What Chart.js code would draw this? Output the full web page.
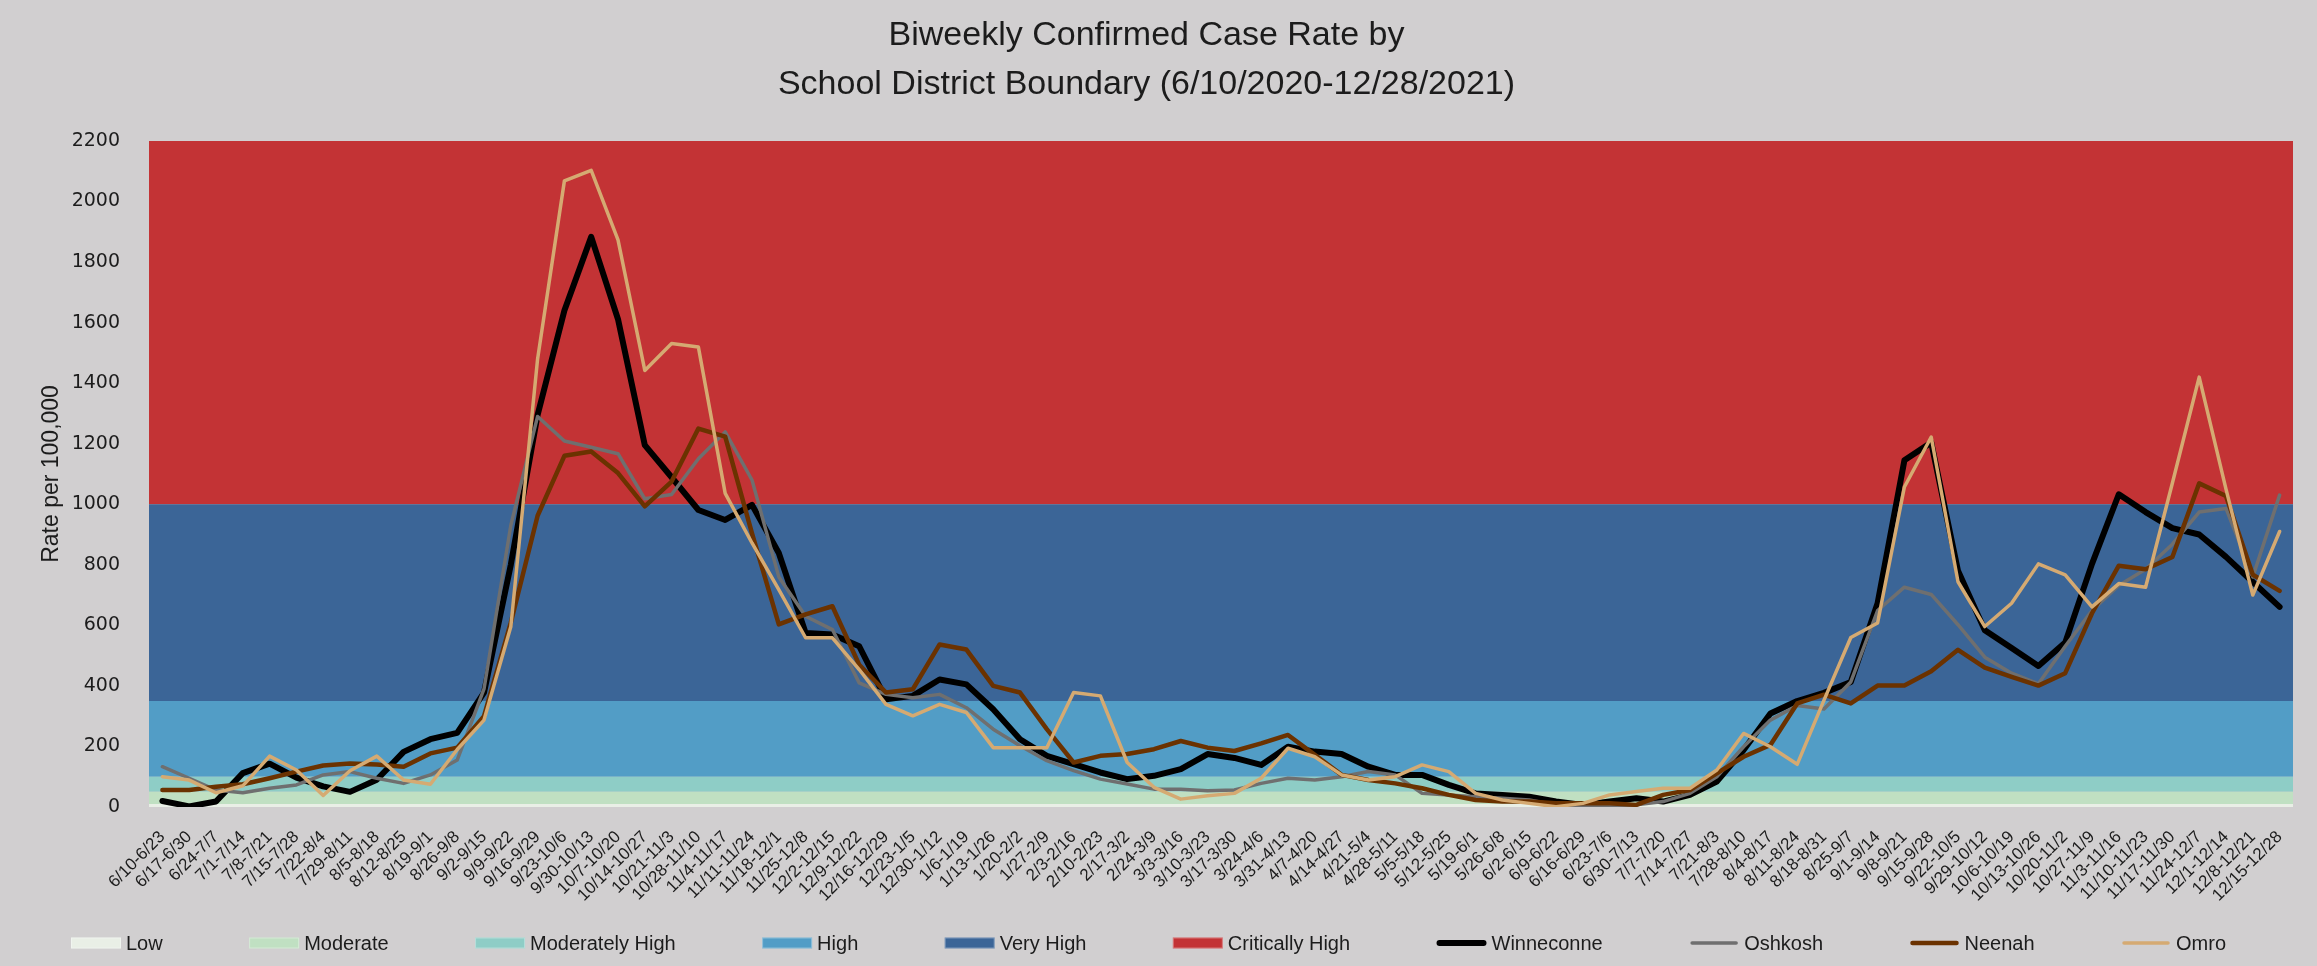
<!DOCTYPE html>
<html>
<head>
<meta charset="utf-8">
<title>Biweekly Confirmed Case Rate by School District Boundary</title>
<script src="https://cdn.jsdelivr.net/npm/chart.js@4.4.0/dist/chart.umd.min.js"></script>
<style>
  html, body { margin: 0; padding: 0; background: #d1cfd0; }
  #wrap { width: 2317px; height: 966px; }
</style>
</head>
<body>
<div id="wrap"><canvas id="chart" width="2317" height="966"></canvas></div>
<script>
// two-week windows, 6/10/2020 - 12/28/2021
const weeks = [
  '6/10-6/23', '6/17-6/30', '6/24-7/7', '7/1-7/14', '7/8-7/21', '7/15-7/28', '7/22-8/4', '7/29-8/11',
  '8/5-8/18', '8/12-8/25', '8/19-9/1', '8/26-9/8', '9/2-9/15', '9/9-9/22', '9/16-9/29', '9/23-10/6',
  '9/30-10/13', '10/7-10/20', '10/14-10/27', '10/21-11/3', '10/28-11/10', '11/4-11/17', '11/11-11/24', '11/18-12/1',
  '11/25-12/8', '12/2-12/15', '12/9-12/22', '12/16-12/29', '12/23-1/5', '12/30-1/12', '1/6-1/19', '1/13-1/26',
  '1/20-2/2', '1/27-2/9', '2/3-2/16', '2/10-2/23', '2/17-3/2', '2/24-3/9', '3/3-3/16', '3/10-3/23',
  '3/17-3/30', '3/24-4/6', '3/31-4/13', '4/7-4/20', '4/14-4/27', '4/21-5/4', '4/28-5/11', '5/5-5/18',
  '5/12-5/25', '5/19-6/1', '5/26-6/8', '6/2-6/15', '6/9-6/22', '6/16-6/29', '6/23-7/6', '6/30-7/13',
  '7/7-7/20', '7/14-7/27', '7/21-8/3', '7/28-8/10', '8/4-8/17', '8/11-8/24', '8/18-8/31', '8/25-9/7',
  '9/1-9/14', '9/8-9/21', '9/15-9/28', '9/22-10/5', '9/29-10/12', '10/6-10/19', '10/13-10/26', '10/20-11/2',
  '10/27-11/9', '11/3-11/16', '11/10-11/23', '11/17-11/30', '11/24-12/7', '12/1-12/14', '12/8-12/21', '12/15-12/28'
];

// risk bands (upper bound of each band)
const bandNames = ['Low', 'Moderate', 'Moderately High', 'High', 'Very High', 'Critically High'];
const bandTops = [10, 50, 100, 350, 1000, 2200];
const bandColors = ['#e9efe6', '#c0e0c2', '#8ecdc6', '#529dc6', '#3b6597', '#c33335'];

const winneconne = [
  20, 2, 18, 112, 143, 97, 68, 50, 90, 182, 224, 245, 378, 800, 1295, 1640,
  1883, 1611, 1195, 1089, 981, 948, 998, 839, 575, 570, 531, 356, 367, 421, 405, 323,
  224, 169, 142, 114, 92, 103, 125, 175, 162, 139, 199, 183, 175, 133, 106, 106,
  73, 45, 40, 34, 18, 7, 18, 29, 18, 40, 84, 188, 309, 350, 377, 413,
  673, 1145, 1204, 780, 584, 525, 466, 543, 803, 1033, 974, 921, 900, 826, 743, 661
];
const oshkosh = [
  133, 95, 56, 47, 62, 73, 106, 117, 95, 78, 106, 155, 390, 930, 1290, 1209,
  1188, 1167, 1018, 1032, 1150, 1239, 1080, 760, 630, 586, 410, 372, 361, 372, 328, 257,
  202, 153, 120, 92, 76, 59, 59, 54, 56, 78, 95, 89, 100, 117, 106, 45,
  40, 34, 29, 23, 7, 1, 1, 7, 18, 45, 100, 199, 287, 335, 324, 413,
  649, 726, 702, 602, 495, 442, 407, 531, 649, 732, 785, 868, 974, 986, 760, 1030
];
const neenah = [
  56, 56, 67, 75, 95, 117, 137, 144, 140, 133, 177, 196, 300, 609, 962, 1160,
  1174, 1103, 993, 1075, 1250, 1223, 904, 603, 636, 663, 470, 378, 389, 537, 520, 400,
  378, 257, 147, 169, 175, 191, 218, 196, 185, 210, 238, 172, 106, 89, 78, 62,
  40, 23, 18, 18, 12, 12, 12, 7, 40, 56, 111, 166, 205, 342, 371, 342,
  401, 401, 448, 519, 460, 430, 401, 442, 640, 797, 785, 826, 1069, 1027, 767, 714
];
const omro = [
  100, 89, 47, 70, 168, 122, 38, 120, 168, 89, 75, 190, 287, 595, 1480, 2068,
  2103, 1873, 1442, 1531, 1519, 1036, 872, 718, 559, 559, 454, 339, 301, 339, 312, 196,
  196, 196, 378, 367, 147, 65, 26, 37, 45, 95, 194, 166, 106, 89, 100, 139,
  117, 45, 23, 12, 1, 12, 40, 51, 62, 62, 122, 243, 199, 141, 353, 560,
  608, 1057, 1222, 744, 596, 673, 803, 767, 661, 738, 726, 1070, 1420, 1050, 700, 910
];

const seriesNames = ['Winneconne', 'Oshkosh', 'Neenah', 'Omro'];
const seriesData = [winneconne, oshkosh, neenah, omro];
const seriesColors = ['#000000', '#6f6f6f', '#6b3200', '#d5aa72'];
const seriesWidths = [6, 3.5, 4.5, 3.5];

const textColor = '#1c1c1c';

const bandSets = bandNames.map((name, i) => ({
  label: name,
  data: weeks.map(() => bandTops[i]),
  xAxisID: 'xb',
  backgroundColor: bandColors[i],
  borderWidth: 0,
  pointRadius: 0,
  fill: i === 0 ? 'origin' : '-1',
  order: 10
}));

const lineSets = seriesNames.map((name, i) => ({
  label: name,
  data: seriesData[i],
  xAxisID: 'x',
  borderColor: seriesColors[i],
  backgroundColor: seriesColors[i],
  borderWidth: seriesWidths[i],
  borderJoinStyle: 'round',
  borderCapStyle: 'round',
  pointRadius: 0,
  fill: false,
  order: 4 - i
}));

// legend row along the bottom, spread like the spreadsheet legend
const bottomLegend = {
  id: 'bottomLegend',
  afterDraw(chart) {
    const ctx = chart.ctx;
    const items = bandNames.map((n, i) => ({ text: n, color: bandColors[i], line: 0 }))
      .concat(seriesNames.map((n, i) => ({ text: n, color: seriesColors[i], line: seriesWidths[i] })));
    ctx.save();
    ctx.font = '20px "Liberation Sans", Arial, sans-serif';
    ctx.textBaseline = 'middle';
    const boxW = 50, gap = 5, start = 71, span = 2155, y = 943;
    const widths = items.map(it => boxW + gap + ctx.measureText(it.text).width);
    const spacing = (span - widths.reduce((a, b) => a + b, 0)) / (items.length - 1);
    let x = start;
    items.forEach((it, i) => {
      if (it.line) {
        ctx.strokeStyle = it.color;
        ctx.lineWidth = it.line;
        ctx.lineCap = 'round';
        ctx.beginPath();
        ctx.moveTo(x + 3, y);
        ctx.lineTo(x + boxW - 3, y);
        ctx.stroke();
      } else {
        ctx.fillStyle = it.color;
        ctx.fillRect(x, y - 5.5, boxW, 11);
        ctx.strokeStyle = 'rgba(255,255,255,0.35)';
        ctx.lineWidth = 1;
        ctx.strokeRect(x + 0.5, y - 5, boxW - 1, 10);
      }
      ctx.fillStyle = textColor;
      ctx.fillText(it.text, x + boxW + gap, y + 1);
      x += widths[i] + spacing;
    });
    ctx.restore();
  }
};

new Chart(document.getElementById('chart'), {
  type: 'line',
  data: { labels: weeks, datasets: bandSets.concat(lineSets) },
  plugins: [bottomLegend],
  options: {
    responsive: false,
    animation: false,
    devicePixelRatio: 1,
    layout: { padding: { left: 0, right: 24, top: 0, bottom: 60 } },
    elements: { line: { tension: 0 } },
    plugins: {
      legend: { display: false },
      tooltip: { enabled: false },
      title: {
        display: true,
        text: ['Biweekly Confirmed Case Rate by', 'School District Boundary (6/10/2020-12/28/2021)'],
        color: textColor,
        font: { family: '"Liberation Sans", Arial, sans-serif', size: 34, weight: 'normal', lineHeight: 1.44 },
        padding: { top: 11, bottom: 32 }
      }
    },
    scales: {
      x: {
        type: 'category',
        offset: true,
        grid: { display: false },
        border: { display: false },
        ticks: {
          autoSkip: false,
          maxRotation: 45,
          minRotation: 45,
          padding: 12,
          color: textColor,
          font: { family: '"Liberation Sans", Arial, sans-serif', size: 17 }
        },
        afterFit: s => { s.height = 99; }
      },
      xb: {
        type: 'category',
        offset: false,
        display: false
      },
      y: {
        min: 0,
        max: 2200,
        grid: { display: false },
        border: { display: false },
        ticks: {
          stepSize: 200,
          padding: 21,
          color: textColor,
          font: { family: '"DejaVu Sans", Verdana, sans-serif', size: 19 },
          callback: v => String(v)
        },
        title: {
          display: true,
          text: 'Rate per 100,000',
          color: textColor,
          font: { family: '"Liberation Sans", Arial, sans-serif', size: 23 },
          padding: { top: 38, bottom: 0 }
        },
        afterFit: s => { s.width = 149; }
      }
    }
  }
});
</script>
</body>
</html>
